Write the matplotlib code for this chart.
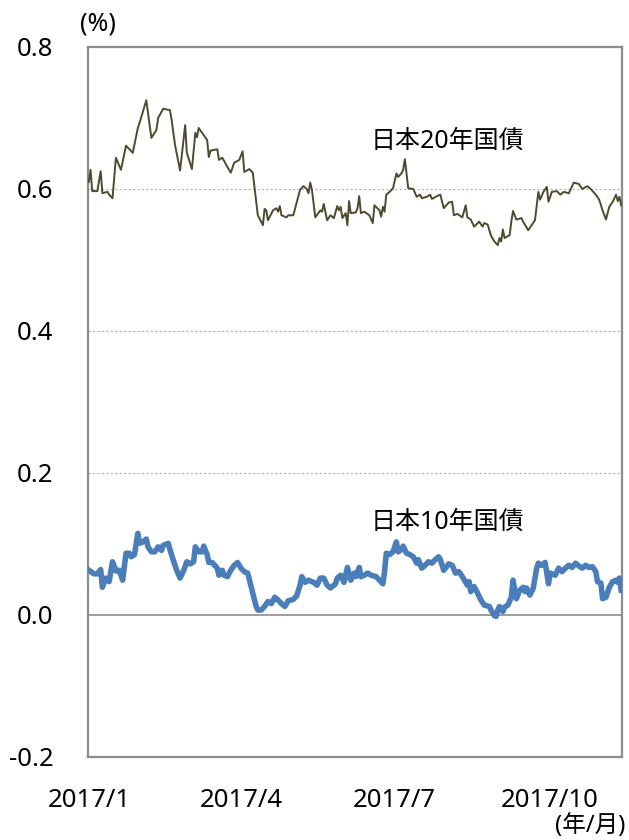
import matplotlib
matplotlib.use("Agg")
import matplotlib.pyplot as plt
import pandas as pd

plt.rcParams['font.family'] = ['Noto Sans', 'Noto Sans CJK JP', 'DejaVu Sans']

start = pd.Timestamp("2017-01-01")

# 日本20年国債 (day offset from 2017/1/1, yield %)
days20 = [0, 1, 2, 5, 7, 8, 11, 12, 14, 16, 19, 22, 26, 29, 30, 34, 37, 40, 41, 44,
          48, 49, 51, 54, 57, 58, 61, 63, 64, 65, 70, 71, 72, 76, 77, 79, 82, 84, 86, 89,
          91, 92, 95, 97, 100, 103, 104, 105, 106, 109, 111, 112, 113, 114, 117, 118, 121, 125, 127, 129,
          130, 131, 132, 134, 137, 138, 139, 141, 143, 145, 147, 148, 149, 150, 152, 153, 154, 155, 158, 159,
          160, 161, 163, 166, 168, 169, 172, 173, 174, 175, 176, 178, 180, 182, 183, 185, 186, 187, 189, 192,
          194, 196, 197, 200, 202, 203, 206, 208, 210, 213, 215, 216, 218, 221, 223, 224, 226, 228, 231, 233,
          234, 236, 238, 240, 242, 243, 244, 245, 246, 249, 250, 251, 253, 256, 257, 260, 264, 266, 267, 269,
          271, 272, 274, 277, 279, 281, 284, 287, 290, 292, 295, 297, 300, 302, 304, 306, 308, 310, 312, 313,
          314, 315]
jgb20 = [0.610, 0.627, 0.597, 0.597, 0.625, 0.594, 0.596, 0.592, 0.587, 0.644, 0.627, 0.661, 0.651, 0.686, 0.693, 0.725, 0.672, 0.683, 0.700, 0.713,
         0.711, 0.697, 0.662, 0.626, 0.690, 0.651, 0.628, 0.679, 0.673, 0.686, 0.669, 0.645, 0.654, 0.656, 0.641, 0.644, 0.631, 0.623, 0.637, 0.641,
         0.653, 0.624, 0.628, 0.623, 0.563, 0.549, 0.572, 0.570, 0.556, 0.570, 0.573, 0.568, 0.576, 0.563, 0.560, 0.563, 0.563, 0.599, 0.604, 0.600,
         0.594, 0.609, 0.599, 0.560, 0.570, 0.568, 0.579, 0.556, 0.563, 0.559, 0.576, 0.570, 0.575, 0.559, 0.566, 0.549, 0.583, 0.566, 0.567, 0.573,
         0.590, 0.566, 0.568, 0.563, 0.552, 0.577, 0.570, 0.561, 0.575, 0.568, 0.592, 0.596, 0.601, 0.622, 0.617, 0.622, 0.627, 0.642, 0.601, 0.600,
         0.589, 0.592, 0.587, 0.589, 0.592, 0.586, 0.590, 0.592, 0.573, 0.581, 0.582, 0.563, 0.565, 0.560, 0.577, 0.560, 0.557, 0.547, 0.554, 0.547,
         0.552, 0.550, 0.534, 0.526, 0.521, 0.531, 0.526, 0.543, 0.531, 0.535, 0.554, 0.569, 0.557, 0.559, 0.554, 0.542, 0.556, 0.596, 0.585, 0.596,
         0.603, 0.582, 0.596, 0.597, 0.592, 0.596, 0.594, 0.609, 0.607, 0.600, 0.604, 0.600, 0.592, 0.585, 0.570, 0.557, 0.575, 0.582, 0.592, 0.583,
         0.589, 0.577]

# 日本10年国債
days10 = [0, 3, 5, 7, 8, 10, 12, 14, 16, 18, 20, 22, 24, 25, 27, 29, 30, 32, 34, 35,
          37, 39, 41, 43, 44, 47, 48, 50, 52, 54, 56, 58, 60, 62, 63, 65, 67, 68, 70, 71,
          73, 76, 77, 79, 80, 82, 84, 86, 88, 90, 92, 94, 96, 97, 99, 100, 102, 104, 106, 108,
          110, 112, 114, 116, 118, 121, 123, 125, 126, 128, 130, 133, 135, 137, 139, 141, 143, 146, 147, 149,
          151, 153, 155, 157, 158, 160, 161, 163, 165, 167, 170, 172, 174, 175, 176, 178, 180, 182, 183, 185,
          186, 188, 190, 192, 194, 195, 197, 199, 201, 203, 205, 207, 208, 210, 213, 215, 217, 219, 221, 224,
          225, 226, 228, 230, 232, 234, 237, 238, 240, 241, 242, 243, 245, 246, 248, 250, 251, 253, 255, 257,
          258, 259, 261, 263, 265, 266, 268, 270, 272, 273, 276, 278, 280, 282, 284, 286, 288, 290, 292, 294,
          296, 298, 300, 301, 303, 304, 306, 308, 310, 312, 313, 314, 315]
jgb10 = [0.063, 0.058, 0.058, 0.064, 0.039, 0.052, 0.047, 0.075, 0.062, 0.063, 0.049, 0.087, 0.087, 0.082, 0.085, 0.115, 0.101, 0.103, 0.107, 0.096,
         0.089, 0.089, 0.096, 0.091, 0.098, 0.101, 0.092, 0.077, 0.063, 0.052, 0.062, 0.075, 0.072, 0.075, 0.096, 0.089, 0.089, 0.097, 0.085, 0.074,
         0.074, 0.066, 0.056, 0.063, 0.056, 0.054, 0.063, 0.070, 0.074, 0.066, 0.061, 0.059, 0.040, 0.030, 0.012, 0.007, 0.007, 0.012, 0.019, 0.016,
         0.025, 0.021, 0.016, 0.012, 0.020, 0.022, 0.027, 0.042, 0.054, 0.046, 0.049, 0.046, 0.042, 0.052, 0.052, 0.042, 0.038, 0.044, 0.052, 0.056,
         0.046, 0.067, 0.049, 0.059, 0.054, 0.067, 0.054, 0.056, 0.059, 0.056, 0.054, 0.049, 0.044, 0.061, 0.087, 0.085, 0.089, 0.103, 0.089, 0.092,
         0.097, 0.087, 0.085, 0.082, 0.073, 0.078, 0.066, 0.070, 0.075, 0.073, 0.078, 0.082, 0.078, 0.063, 0.072, 0.070, 0.059, 0.061, 0.054, 0.042,
         0.047, 0.033, 0.040, 0.031, 0.021, 0.014, 0.012, 0.007, -0.001, -0.002, 0.007, 0.012, 0.005, 0.011, 0.014, 0.025, 0.049, 0.023, 0.035, 0.039,
         0.033, 0.038, 0.028, 0.038, 0.066, 0.073, 0.070, 0.074, 0.044, 0.059, 0.056, 0.066, 0.061, 0.066, 0.070, 0.067, 0.073, 0.069, 0.066, 0.070,
         0.067, 0.068, 0.061, 0.047, 0.045, 0.023, 0.025, 0.039, 0.047, 0.049, 0.046, 0.052, 0.035]

x_ticks = ["2017-01-01", "2017-04-01", "2017-07-01", "2017-10-01"]
x_ticklabels = ["2017/1", "2017/4", "2017/7", "2017/10"]
y_ticks = [-0.2, 0.0, 0.2, 0.4, 0.6, 0.8]
y_ticklabels = ["-0.2", "0.0", "0.2", "0.4", "0.6", "0.8"]

d20 = start + pd.to_timedelta(days20, unit="D")
d10 = start + pd.to_timedelta(days10, unit="D")

fig = plt.figure(figsize=(6.29, 8.40), dpi=100)
ax = fig.add_axes([88/629, 1 - 757/840, (622 - 88)/629, (757 - 47)/840])

gray = "#8c8c8c"
for yv in [0.2, 0.4, 0.6]:
    ax.axhline(yv, color="#b0b0b0", lw=0.8, ls=(0, (2, 2)), zorder=1)
ax.axhline(0.0, color=gray, lw=1.2, zorder=1)

ax.plot(d20, jgb20, color="#4d4a2d", lw=1.4, zorder=3)
ax.plot(d10, jgb10, color="#4a7ebb", lw=4.0, zorder=3, solid_joinstyle="round")

ax.set_ylim(-0.2, 0.8)
ax.set_xlim(pd.Timestamp("2016-12-31 12:00"), pd.Timestamp("2017-11-12 12:00"))
ax.set_yticks(y_ticks)
ax.set_yticklabels(y_ticklabels)
ax.set_xticks(pd.to_datetime(x_ticks))
ax.set_xticklabels(x_ticklabels)
ax.tick_params(axis="both", length=0, labelsize=18.5, colors="black")
ax.tick_params(axis="y", pad=25)
ax.tick_params(axis="x", pad=22)

for s in ["left", "bottom", "right", "top"]:
    ax.spines[s].set_color(gray)
    ax.spines[s].set_linewidth(1.6)

fig.text(98/629, 1 - 24/840, "(%)", ha="center", va="center", fontsize=18)
fig.text(590/629, 1 - 826/840, "(年/月)", ha="center", va="center", fontsize=17)

ax.text(pd.Timestamp("2017-08-01"), 0.667, "日本20年国債", ha="center", va="center", fontsize=18)
ax.text(pd.Timestamp("2017-08-01"), 0.131, "日本10年国債", ha="center", va="center", fontsize=18)

fig.savefig("out.png", dpi=100)
